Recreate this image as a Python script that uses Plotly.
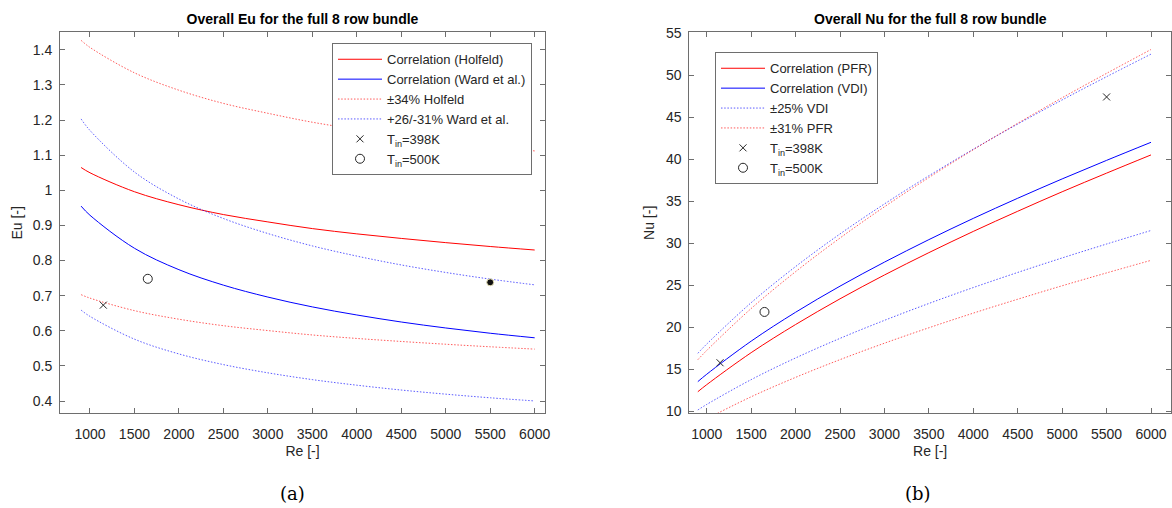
import plotly.graph_objects as go

# Reynolds numbers at which the correlations are evaluated
re = [900, 1000, 1500, 2000, 2500, 3000, 3500, 4000, 4500, 5000, 5500, 6000]

# Euler number correlations
eu_holfeld = [1.065, 1.050, 0.996, 0.959, 0.931, 0.910, 0.891, 0.876, 0.863, 0.851, 0.840, 0.830]
eu_ward = [0.955, 0.929, 0.835, 0.774, 0.730, 0.696, 0.668, 0.645, 0.625, 0.608, 0.593, 0.580]

# Nusselt number correlations
nu_pfr = [12.3, 13.14, 16.95, 20.30, 23.36, 26.20, 28.86, 31.39, 33.79, 36.11, 38.33, 40.5]
nu_vdi = [13.5, 14.38, 18.32, 21.76, 24.87, 27.73, 30.41, 32.94, 35.34, 37.64, 39.85, 42.0]

# Stated uncertainty of each correlation
holfeld_band = 0.34
ward_up, ward_dn = 0.26, 0.31
vdi_band = 0.25
pfr_band = 0.31

# Measurements
re_398 = [1150]
eu_398 = [0.673]
re_500 = [1650]
eu_500 = [0.748]
re_extra = [5500]
eu_extra = [0.738]

nu_re_398 = [1150, 5500]
nu_398 = [15.75, 47.4]
nu_re_500 = [1650]
nu_500 = [21.8]


def scale(vals, f):
    return [v * f for v in vals]


RED = "#ff0000"
BLUE = "#0000ff"
RED_DOT = "rgba(255,0,0,0.65)"
BLUE_DOT = "rgba(0,0,255,0.65)"
DOT = "1.5px,1.7px"
FONT = "Liberation Sans"
TXT = "#262626"
AX = "#6e6e6e"

fig = go.Figure()

# ---- (a) Euler number ----
fig.add_trace(go.Scatter(x=re, y=eu_holfeld, mode="lines", line=dict(color=RED, width=1, shape="spline"),
                         name="Correlation (Holfeld)", legend="legend", xaxis="x", yaxis="y"))
fig.add_trace(go.Scatter(x=re, y=eu_ward, mode="lines", line=dict(color=BLUE, width=1, shape="spline"),
                         name="Correlation (Ward et al.)", legend="legend", xaxis="x", yaxis="y"))
fig.add_trace(go.Scatter(x=re, y=scale(eu_holfeld, 1 + holfeld_band), mode="lines",
                         line=dict(color=RED_DOT, width=1, dash=DOT, shape="spline"),
                         name="±34% Holfeld", legendgroup="hb", legend="legend", xaxis="x", yaxis="y"))
fig.add_trace(go.Scatter(x=re, y=scale(eu_holfeld, 1 - holfeld_band), mode="lines",
                         line=dict(color=RED_DOT, width=1, dash=DOT, shape="spline"),
                         name="±34% Holfeld", legendgroup="hb", showlegend=False, xaxis="x", yaxis="y"))
fig.add_trace(go.Scatter(x=re, y=scale(eu_ward, 1 + ward_up), mode="lines",
                         line=dict(color=BLUE_DOT, width=1, dash=DOT, shape="spline"),
                         name="+26/-31% Ward et al.", legendgroup="wb", legend="legend", xaxis="x", yaxis="y"))
fig.add_trace(go.Scatter(x=re, y=scale(eu_ward, 1 - ward_dn), mode="lines",
                         line=dict(color=BLUE_DOT, width=1, dash=DOT, shape="spline"),
                         name="+26/-31% Ward et al.", legendgroup="wb", showlegend=False, xaxis="x", yaxis="y"))
fig.add_trace(go.Scatter(x=re_398, y=eu_398, mode="markers",
                         marker=dict(symbol="x-thin-open", size=7, color=TXT, line=dict(width=1, color=TXT)),
                         name="T<sub>in</sub>=398K", legend="legend", xaxis="x", yaxis="y"))
fig.add_trace(go.Scatter(x=re_500, y=eu_500, mode="markers",
                         marker=dict(symbol="circle-open", size=9, color=TXT, line=dict(width=1, color=TXT)),
                         name="T<sub>in</sub>=500K", legend="legend", xaxis="x", yaxis="y"))
fig.add_trace(go.Scatter(x=re_extra, y=eu_extra, mode="markers",
                         marker=dict(symbol="circle", size=7, color="#111111", line=dict(width=1, color="#e9e4b8")),
                         showlegend=False, xaxis="x", yaxis="y"))

# ---- (b) Nusselt number ----
fig.add_trace(go.Scatter(x=re, y=nu_pfr, mode="lines", line=dict(color=RED, width=1, shape="spline"),
                         name="Correlation (PFR)", legend="legend2", xaxis="x2", yaxis="y2"))
fig.add_trace(go.Scatter(x=re, y=nu_vdi, mode="lines", line=dict(color=BLUE, width=1, shape="spline"),
                         name="Correlation (VDI)", legend="legend2", xaxis="x2", yaxis="y2"))
fig.add_trace(go.Scatter(x=re, y=scale(nu_vdi, 1 + vdi_band), mode="lines",
                         line=dict(color=BLUE_DOT, width=1, dash=DOT, shape="spline"),
                         name="±25% VDI", legendgroup="vb", legend="legend2", xaxis="x2", yaxis="y2"))
fig.add_trace(go.Scatter(x=re, y=scale(nu_vdi, 1 - vdi_band), mode="lines",
                         line=dict(color=BLUE_DOT, width=1, dash=DOT, shape="spline"),
                         name="±25% VDI", legendgroup="vb", showlegend=False, xaxis="x2", yaxis="y2"))
fig.add_trace(go.Scatter(x=re, y=scale(nu_pfr, 1 + pfr_band), mode="lines",
                         line=dict(color=RED_DOT, width=1, dash=DOT, shape="spline"),
                         name="±31% PFR", legendgroup="pb", legend="legend2", xaxis="x2", yaxis="y2"))
fig.add_trace(go.Scatter(x=re, y=scale(nu_pfr, 1 - pfr_band), mode="lines",
                         line=dict(color=RED_DOT, width=1, dash=DOT, shape="spline"),
                         name="±31% PFR", legendgroup="pb", showlegend=False, xaxis="x2", yaxis="y2"))
fig.add_trace(go.Scatter(x=nu_re_398, y=nu_398, mode="markers",
                         marker=dict(symbol="x-thin-open", size=7, color=TXT, line=dict(width=1, color=TXT)),
                         name="T<sub>in</sub>=398K", legend="legend2", xaxis="x2", yaxis="y2"))
fig.add_trace(go.Scatter(x=nu_re_500, y=nu_500, mode="markers",
                         marker=dict(symbol="circle-open", size=9, color=TXT, line=dict(width=1, color=TXT)),
                         name="T<sub>in</sub>=500K", legend="legend2", xaxis="x2", yaxis="y2"))

W, H = 1172, 508


def px_x(p):
    return p / W


def px_y(p):
    return 1 - p / H


label_font = dict(family=FONT, size=14, color=TXT)
axis_common = dict(
    showline=True, mirror="ticks", linecolor=AX, linewidth=1,
    ticks="inside", ticklen=5, tickcolor=AX, tickwidth=1,
    showgrid=False, zeroline=False, automargin=False,
    tickfont=dict(family=FONT, size=14, color=TXT),
)
xticks = [1000, 1500, 2000, 2500, 3000, 3500, 4000, 4500, 5000, 5500, 6000]
legend_common = dict(xanchor="left", yanchor="top", bgcolor="white", bordercolor=AX, borderwidth=1,
                     font=dict(family=FONT, size=13, color=TXT), tracegroupgap=0, itemwidth=44)

fig.update_layout(
    width=W, height=H,
    margin=dict(l=0, r=0, t=0, b=0),
    paper_bgcolor="white", plot_bgcolor="white",
    font=dict(family=FONT, size=14, color=TXT),
    title=dict(text="<b>Overall Eu for the full 8 row bundle</b>", x=px_x(302.5), xanchor="center",
               y=px_y(19), yanchor="middle", xref="paper", yref="paper",
               font=dict(family=FONT, size=14, color="black")),
    xaxis=dict(axis_common, domain=[px_x(60), px_x(545)], range=[663, 6116],
               tickvals=xticks, anchor="y", ticklabelstandoff=8,
               title=dict(text="Re [-]", font=label_font, standoff=5)),
    yaxis=dict(axis_common, domain=[px_y(413.3), px_y(32.3)], range=[0.365, 1.45],
               tickvals=[0.4, 0.5, 0.6, 0.7, 0.8, 0.9, 1.0, 1.1, 1.2, 1.3, 1.4],
               ticktext=["0.4", "0.5", "0.6", "0.7", "0.8", "0.9", "1", "1.1", "1.2", "1.3", "1.4"],
               anchor="x", ticklabelstandoff=4,
               title=dict(text="Eu [-]", font=label_font, standoff=6)),
    xaxis2=dict(axis_common, domain=[px_x(689.3), px_x(1171)], range=[804, 6225],
                tickvals=xticks, anchor="y2", ticklabelstandoff=8,
                title=dict(text="Re [-]", font=label_font, standoff=5)),
    yaxis2=dict(axis_common, domain=[px_y(413.3), px_y(32.3)], range=[9.73, 55.1],
                tickvals=[10, 15, 20, 25, 30, 35, 40, 45, 50, 55], anchor="x2", ticklabelstandoff=4,
                title=dict(text="Nu [-]", font=label_font, standoff=8)),
    legend=dict(legend_common, x=px_x(332), y=px_y(43.3)),
    legend2=dict(legend_common, x=px_x(715), y=px_y(52.3)),
    annotations=[
        dict(text="<b>Overall Nu for the full 8 row bundle</b>", x=px_x(930), y=px_y(19),
             xref="paper", yref="paper", showarrow=False, xanchor="center", yanchor="middle",
             font=dict(family=FONT, size=14, color="black")),
        dict(text="(a)", x=px_x(292), y=px_y(493), xref="paper", yref="paper", showarrow=False,
             xanchor="center", yanchor="middle", font=dict(family="DejaVu Serif", size=18, color="black")),
        dict(text="(b)", x=px_x(918), y=px_y(493), xref="paper", yref="paper", showarrow=False,
             xanchor="center", yanchor="middle", font=dict(family="DejaVu Serif", size=18, color="black")),
    ],
)

fig.write_html("out.html")
